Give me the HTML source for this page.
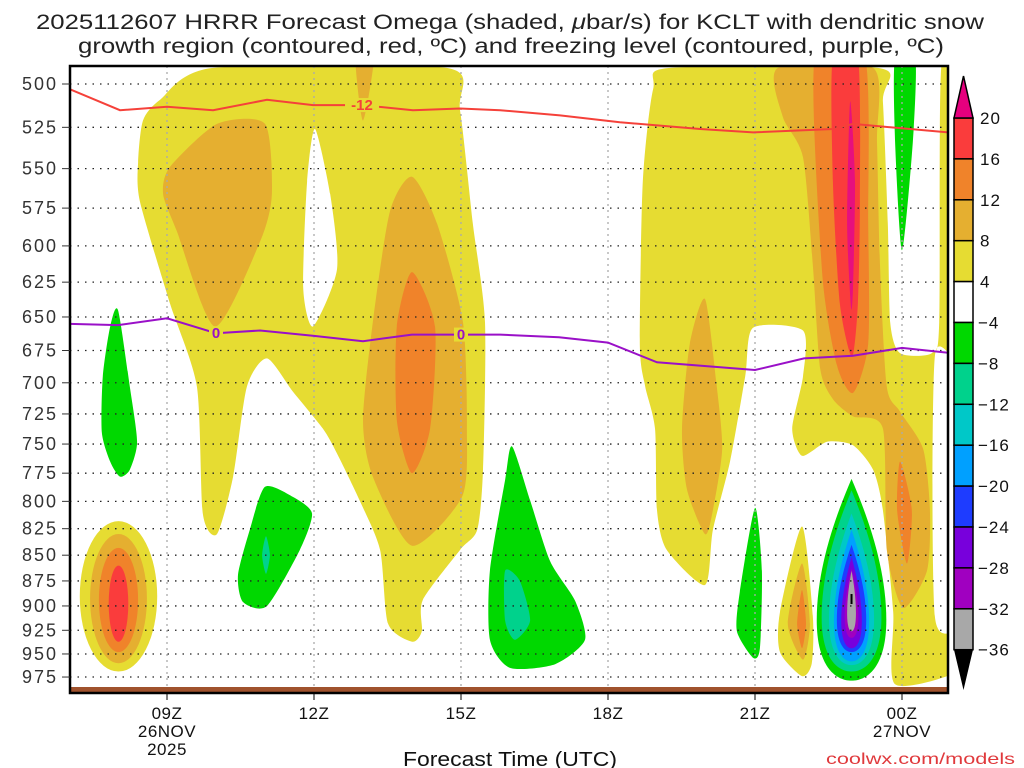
<!DOCTYPE html>
<html><head><meta charset="utf-8">
<style>
html,body{margin:0;padding:0;background:#fff;}
svg{display:block;font-family:"Liberation Sans",sans-serif;}
</style></head>
<body>
<svg id="chart" width="1024" height="768" viewBox="0 0 1024 768" xmlns="http://www.w3.org/2000/svg">
<text x="510" y="29" font-size="21" text-anchor="middle" fill="#222" textLength="948" lengthAdjust="spacingAndGlyphs">2025112607 HRRR Forecast Omega (shaded, <tspan font-style="italic">μ</tspan>bar/s) for KCLT with dendritic snow</text>
<text x="511" y="53" font-size="21" text-anchor="middle" fill="#222" textLength="866" lengthAdjust="spacingAndGlyphs">growth region (contoured, red, ºC) and freezing level (contoured, purple, ºC)</text>
<defs><clipPath id="plotclip"><rect x="70" y="66" width="878" height="627"/></clipPath></defs>
<g id="shapes" clip-path="url(#plotclip)"></g>
<g id="grid"></g>
<g id="lines" clip-path="url(#plotclip)"></g>
<rect x="70" y="687" width="878" height="6" fill="#a0522d"/>
<rect x="70" y="66" width="878" height="627" fill="none" stroke="#000" stroke-width="2.5"/>
<g id="yaxis"></g>
<g id="xaxis"></g>
<g id="cbar"></g>
<text x="510" y="766" font-size="20" text-anchor="middle" fill="#111" textLength="214" lengthAdjust="spacingAndGlyphs">Forecast Time (UTC)</text>
<text x="826" y="764" font-size="16" fill="#e0393c" textLength="189" lengthAdjust="spacingAndGlyphs">coolwx.com/models</text>
</svg>
<script>
const NS='http://www.w3.org/2000/svg';
// ---- data ----
const pressureTicks=[500,525,550,575,600,625,650,675,700,725,750,775,800,825,850,875,900,925,950,975];
const timeTicks=[9,12,15,18,21,24];
const timeLabels=[['09Z','26NOV','2025'],['12Z'],['15Z'],['18Z'],['21Z'],['00Z','27NOV']];
const cbarLevels=[20,16,12,8,4,-4,-8,-12,-16,-20,-24,-28,-32,-36];
const cbarColors=['#fa3c3c','#f0832a','#e5af30','#e6dc32','#ffffff','#00d800','#00d28c','#00c8c8','#00a0ff','#1e3cff','#7800dc','#a000c0','#a8a8a8'];
const dgzHours=[7.02,8.04,9,9.94,11.04,11.98,12.98,14.02,14.98,15.8,17.02,18.24,19.88,20.96,22.6,23.0,24.94,25.2];
const dgzPres=[503,515,513,515,509,512,512,515,514,515,518,522,526,528,526,523,528,528];
const frzHours=[7.0,8.0,9.0,10.0,10.9,12.0,13.0,14.0,15.0,15.8,17.0,18.0,19.0,21.0,22.0,23.0,24.0,25.0];
const frzPres=[655,656,651,662,660,664,668,663,663,663,665,669,684,690,681,679,673,677];
// filled regions: [hour, pressure]
const yellowA=[[8.51,521],[8.86,509],[9.94,491],[14.71,491],[14.98,515],[15.24,585],[15.49,654],[15.45,772],[15.33,826],[14.98,845],[14.22,894],[14.2,926],[14.0,937],[13.51,918],[13.35,845],[12.94,800],[12.47,758],[12.18,737],[11.57,707],[11.04,681],[10.63,703],[10.35,778],[10.02,830],[9.73,811],[9.61,703],[9.06,640],[8.45,571],[8.41,546]];
const holeA=[[12.02,526],[12.33,566],[12.47,616],[11.98,657],[11.78,629],[11.86,558]];
const goldUL=[[10.02,523],[11.0,523],[11.14,566],[10.9,597],[9.98,657],[9.2,590],[8.92,566],[9.06,549]];
const goldTop=[[12.84,480],[13.24,480],[13.0,521]];
const goldCen=[[14.0,555],[14.51,585],[15.04,654],[15.12,737],[15.02,796],[14.0,841],[13.2,778],[13.0,730],[13.2,654],[13.55,577]];
const orangeCen=[[14.0,618],[14.47,657],[14.37,737],[14.0,775],[13.69,730],[13.69,657]];
const yellowC=[[19.27,491],[23.51,491],[23.61,510],[23.71,585],[23.76,654],[23.96,677],[24.61,677],[24.76,654],[24.8,491],[25.2,480],[25.2,670],[24.67,680],[24.67,910],[25.2,926],[25.2,967],[23.86,983],[23.82,906],[23.61,808],[23.41,772],[23.0,751],[22.47,748],[21.96,760],[21.76,737],[21.98,695],[21.98,660],[20.96,658],[20.8,695],[20.49,765],[20.14,826],[19.98,879],[19.2,845],[19.0,808],[18.96,737],[18.76,703],[18.65,670],[18.71,558],[18.92,503]];
const goldC=[[21.47,491],[23.41,491],[23.49,534],[23.55,613],[23.69,703],[23.96,723],[24.43,754],[24.57,808],[24.51,865],[24.02,902],[23.69,845],[23.61,737],[23.0,727],[22.59,713],[22.33,689],[22.18,613],[21.98,543],[21.57,519]];
const orangeC=[[22.22,485],[23.24,485],[23.31,585],[23.31,670],[23.0,708],[22.67,686],[22.37,618]];
const orangeCR=[[23.96,765],[24.2,808],[24.1,858],[23.9,808]];
const redC=[[22.59,485],[23.1,485],[23.14,571],[23.1,640],[22.98,680],[22.73,640],[22.59,558]];
const magC=[[22.94,510],[23.04,558],[23.0,629],[22.96,643],[22.88,585]];
const goldCL=[[19.98,637],[20.22,703],[20.33,754],[20.14,808],[19.98,830],[19.61,789],[19.51,737],[19.67,670]];
const yellowSpike=[[21.51,906],[21.96,823],[22.18,910],[22.16,960],[21.96,974],[21.51,948]];
const goldSpike=[[21.96,858],[22.12,918],[21.98,956],[21.67,918]];
const orangeSpike=[[21.96,884],[22.04,918],[21.96,944],[21.86,918]];
const green1=[[8.0,645],[8.24,703],[8.39,748],[8.24,772],[8.04,778],[7.84,765],[7.67,740],[7.69,695],[7.84,657]];
const green2=[[11.0,787],[11.57,796],[11.96,811],[11.71,845],[11.04,900],[10.55,896],[10.45,869],[10.69,826]];
const teal2=[[11.02,832],[11.1,850],[11.02,868],[10.94,850]];
const green3=[[15.59,865],[15.9,781],[16.04,752],[16.41,799],[16.82,856],[17.33,895],[17.53,935],[16.92,961],[16.0,965],[15.59,935]];
const teal3=[[15.9,865],[16.2,875],[16.41,915],[16.1,935],[15.9,915]];
const green4=[[21.0,806],[21.14,865],[21.1,944],[20.96,954],[20.63,926],[20.69,886]];
const green5=[[23.86,485],[24.27,485],[24.22,534],[24.0,603],[23.86,534]];
// ellipse blob (left): [centerHour, halfWidthHours, topP, bottomP]
const blobB=[[8.01,0.79,818,969],[8.01,0.58,830,960],[8.01,0.40,843,948],[8.01,0.2,860,937]];
const blobBColors=['#e6dc32','#e5af30','#f0832a','#fa3c3c'];
// egg blob (downward omega): [centerHour, halfWidthHours, topP, bottomP]
const eggG=[[22.97,0.71,780,979],[22.97,0.61,790,969],[22.97,0.46,811,962],[22.97,0.36,826,958],[22.97,0.30,840,948],[22.97,0.21,852,944],[22.97,0.14,863,933],[22.97,0.09,865,926]];
const eggColors=['#00d800','#00d28c','#00c8c8','#00a0ff','#1e3cff','#7800dc','#a000c0','#a8a8a8'];

// ---- axes ----
function X(h){return 167+(h-9)*49;}
function Y(p){return 84+888*Math.log(p/500);}

const gShapes=document.getElementById('shapes');
function smoothPath(pts){
  const P=pts.map(d=>[X(d[0]),Y(d[1])]);const n=P.length;let s='M'+P[0][0].toFixed(1)+','+P[0][1].toFixed(1);
  for(let i=0;i<n;i++){const p0=P[(i-1+n)%n],p1=P[i],p2=P[(i+1)%n],p3=P[(i+2)%n];const t=0.12;
    const c1=[p1[0]+(p2[0]-p0[0])*t,p1[1]+(p2[1]-p0[1])*t],c2=[p2[0]-(p3[0]-p1[0])*t,p2[1]-(p3[1]-p1[1])*t];
    s+='C'+c1[0].toFixed(1)+','+c1[1].toFixed(1)+' '+c2[0].toFixed(1)+','+c2[1].toFixed(1)+' '+p2[0].toFixed(1)+','+p2[1].toFixed(1);}
  return s+'Z';
}
function region(pts,color,name){
  const el=document.createElementNS(NS,'path');
  el.setAttribute('d',smoothPath(pts));el.setAttribute('fill',color);
  
  
  gShapes.appendChild(el);
}
function ellipseBlob(b,color,name){
  const el=document.createElementNS(NS,'ellipse');
  const y0=Y(b[2]),y1=Y(b[3]);
  el.setAttribute('cx',X(b[0]));el.setAttribute('cy',(y0+y1)/2);
  el.setAttribute('rx',b[1]*49);el.setAttribute('ry',(y1-y0)/2);el.setAttribute('fill',color);
  
  
  gShapes.appendChild(el);
}
function eggBlob(b,color,name){
  const cx=X(b[0]),w=b[1]*49,y0=Y(b[2]),y1=Y(b[3]),H=y1-y0;
  const d=`M${cx},${y0} C${cx+0.5*w},${y0+0.2*H} ${cx+w},${y0+0.45*H} ${cx+w},${y0+0.7*H} C${cx+w},${y0+0.92*H} ${cx+0.5*w},${y1} ${cx},${y1} C${cx-0.5*w},${y1} ${cx-w},${y0+0.92*H} ${cx-w},${y0+0.7*H} C${cx-w},${y0+0.45*H} ${cx-0.5*w},${y0+0.2*H} ${cx},${y0}Z`;
  const el=document.createElementNS(NS,'path');el.setAttribute('d',d);el.setAttribute('fill',color);
  
  
  gShapes.appendChild(el);
}
const YEL='#e6dc32',GOLD='#e5af30',ORG='#f0832a',RED='#fa3c3c',MAG='#e6107e',GRN='#00d800',TEAL='#00d28c';
region(yellowA,YEL,'omega-4-8-left');
region(holeA,'#fff','omega-hole-left');
region(goldUL,GOLD,'omega-8-12-upper-left');
region(goldTop,GOLD,'omega-8-12-top');
region(goldCen,GOLD,'omega-8-12-center');
region(orangeCen,ORG,'omega-12-16-center');
blobB.forEach((b,i)=>ellipseBlob(b,blobBColors[i],'omega-blob-left-'+i));
region(yellowC,YEL,'omega-4-8-right');
region(goldCL,GOLD,'omega-8-12-right-left');
region(goldC,GOLD,'omega-8-12-right');
region(orangeC,ORG,'omega-12-16-right');
region(orangeCR,ORG,'omega-12-16-right-low');
region(redC,RED,'omega-16-20-right');
region(magC,MAG,'omega-over-20-right');
region(yellowSpike,YEL,'omega-4-8-spike');
region(goldSpike,GOLD,'omega-8-12-spike');
region(orangeSpike,ORG,'omega-12-16-spike');
region(green1,GRN,'omega-neg-green-1');
region(green2,GRN,'omega-neg-green-2');
region(teal2,TEAL,'omega-neg-teal-2');
region(green3,GRN,'omega-neg-green-3');
region(teal3,TEAL,'omega-neg-teal-3');
region(green4,GRN,'omega-neg-green-4');
region(green5,GRN,'omega-neg-green-5');
eggG.forEach((b,i)=>eggBlob(b,eggColors[i],'omega-neg-core-'+i));
{const el=document.createElementNS(NS,'rect');el.setAttribute('x',X(22.97)-1);el.setAttribute('y',Y(893)-5);el.setAttribute('width',2);el.setAttribute('height',10);el.setAttribute('fill','#000');


gShapes.appendChild(el);}

// grid
const gGrid=document.getElementById('grid');
pressureTicks.forEach(p=>{const l=document.createElementNS(NS,'line');l.setAttribute('x1',70);l.setAttribute('x2',948);l.setAttribute('y1',Y(p));l.setAttribute('y2',Y(p));
  l.setAttribute('stroke','#222');l.setAttribute('stroke-width','1.3');l.setAttribute('stroke-dasharray','1.5 6');
  
  
  gGrid.appendChild(l);});
timeTicks.forEach(h=>{const l=document.createElementNS(NS,'line');l.setAttribute('x1',X(h));l.setAttribute('x2',X(h));l.setAttribute('y1',66);l.setAttribute('y2',687);
  l.setAttribute('stroke','#aaa');l.setAttribute('stroke-width','1.3');l.setAttribute('stroke-dasharray','2 4');
  
  
  gGrid.appendChild(l);});

// contour lines
const gLines=document.getElementById('lines');
function polyline(hs,ps,color,name){
  const el=document.createElementNS(NS,'polyline');
  el.setAttribute('points',hs.map((h,i)=>X(h).toFixed(1)+','+Y(ps[i]).toFixed(1)).join(' '));
  el.setAttribute('fill','none');el.setAttribute('stroke',color);el.setAttribute('stroke-width','2');
  
  
  gLines.appendChild(el);
}
polyline(dgzHours,dgzPres,'#f5413a','dgz-minus12-contour');
polyline(frzHours,frzPres,'#9a10c8','freezing-level-contour');
function lineLabel(h,hs,ps,txt,color,name){
  let p=ps[0];for(let i=0;i<hs.length-1;i++){if(h>=hs[i]&&h<=hs[i+1]){p=ps[i]+(ps[i+1]-ps[i])*(h-hs[i])/(hs[i+1]-hs[i]);}}
  const r=document.createElementNS(NS,'rect');const w=txt.length*10+4;
  r.setAttribute('x',X(h)-w/2);r.setAttribute('y',Y(p)-7);r.setAttribute('width',w);r.setAttribute('height',14);
  r.setAttribute('fill','#e6dc32');
  
  
  gLines.appendChild(r);
  const t=document.createElementNS(NS,'text');t.setAttribute('x',X(h));t.setAttribute('y',Y(p)+5);t.setAttribute('text-anchor','middle');
  t.setAttribute('font-size','15');t.setAttribute('font-weight','bold');t.setAttribute('fill',color);t.textContent=txt;
  
  
  gLines.appendChild(t);
}
lineLabel(12.98,dgzHours,dgzPres,'-12','#f5413a','dgz-label');
lineLabel(10.0,frzHours,frzPres,'0','#9a10c8','freezing-label-1');
lineLabel(15.0,frzHours,frzPres,'0','#9a10c8','freezing-label-2');

// y axis
const gY=document.getElementById('yaxis');
pressureTicks.forEach(p=>{
  const t=document.createElementNS(NS,'text');t.setAttribute('x',58);t.setAttribute('y',Y(p)+6);t.setAttribute('text-anchor','end');
  t.setAttribute('font-size','18');t.setAttribute('fill','#333');t.setAttribute('letter-spacing','2');t.textContent=p;
  
  
  gY.appendChild(t);
  const l=document.createElementNS(NS,'line');l.setAttribute('x1',62);l.setAttribute('x2',70);l.setAttribute('y1',Y(p));l.setAttribute('y2',Y(p));l.setAttribute('stroke','#333');
  
  
  gY.appendChild(l);
});
// x axis
const gX=document.getElementById('xaxis');
timeTicks.forEach((h,i)=>{
  const l=document.createElementNS(NS,'line');l.setAttribute('x1',X(h));l.setAttribute('x2',X(h));l.setAttribute('y1',693);l.setAttribute('y2',700);l.setAttribute('stroke','#000');
  
  
  gX.appendChild(l);
  timeLabels[i].forEach((s,j)=>{
    const t=document.createElementNS(NS,'text');t.setAttribute('x',X(h));t.setAttribute('y',719+j*18);t.setAttribute('text-anchor','middle');
    t.setAttribute('font-size','17');t.setAttribute('fill','#111');t.setAttribute('letter-spacing','0.5');t.textContent=s;
    
    
    gX.appendChild(t);
  });
});
// colorbar
const gC=document.getElementById('cbar');
const cbTop=118,cbStep=40.9,cbX=954,cbW=19;
cbarColors.forEach((c,i)=>{
  const r=document.createElementNS(NS,'rect');r.setAttribute('x',cbX);r.setAttribute('y',cbTop+i*cbStep);r.setAttribute('width',cbW);r.setAttribute('height',cbStep);
  r.setAttribute('fill',c);r.setAttribute('stroke','#000');r.setAttribute('stroke-width','1.5');
  
  
  gC.appendChild(r);
});
{const tri=document.createElementNS(NS,'polygon');tri.setAttribute('points',`${cbX},${cbTop} ${cbX+cbW},${cbTop} ${cbX+cbW/2},76`);tri.setAttribute('fill','#e6007e');tri.setAttribute('stroke','#000');tri.setAttribute('stroke-width','1.5');


gC.appendChild(tri);
const yb=cbTop+cbarColors.length*cbStep;
const tri2=document.createElementNS(NS,'polygon');tri2.setAttribute('points',`${cbX},${yb} ${cbX+cbW},${yb} ${cbX+cbW/2},690`);tri2.setAttribute('fill','#000');


gC.appendChild(tri2);}
cbarLevels.forEach((v,i)=>{
  const t=document.createElementNS(NS,'text');t.setAttribute('x',v<0?978:980);t.setAttribute('y',cbTop+i*cbStep+6);
  t.setAttribute('font-size','17');t.setAttribute('fill','#111');t.setAttribute('letter-spacing','1');t.textContent=v<0?'\u2212'+Math.abs(v):String(v);
  
  
  gC.appendChild(t);
});
</script>
</body></html>
